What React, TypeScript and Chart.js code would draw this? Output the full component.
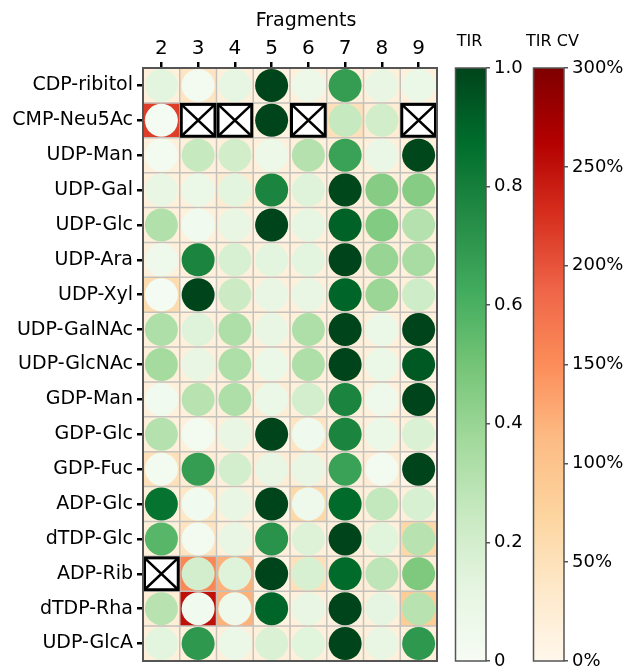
import React, { useEffect, useRef } from 'react';
import { Chart, registerables } from 'chart.js';
Chart.register(...registerables);

const FRAGMENTS = ['2', '3', '4', '5', '6', '7', '8', '9'];
const SUGARS = [
  'CDP-ribitol', 'CMP-Neu5Ac', 'UDP-Man', 'UDP-Gal', 'UDP-Glc', 'UDP-Ara', 'UDP-Xyl',
  'UDP-GalNAc', 'UDP-GlcNAc', 'GDP-Man', 'GDP-Glc', 'GDP-Fuc', 'ADP-Glc', 'dTDP-Glc',
  'ADP-Rib', 'dTDP-Rha', 'UDP-GlcA',
];
// TIR (0..1) per sugar row, per fragment column; null = not measured (X)
const TIR: (number | null)[][] = [
  [0.13, 0.03, 0.11, 1.0, 0.07, 0.68, 0.1, 0.08],
  [0.02, null, null, 1.0, null, 0.25, 0.21, null],
  [0.03, 0.25, 0.21, 0.07, 0.31, 0.66, 0.09, 0.99],
  [0.1, 0.08, 0.13, 0.78, 0.15, 0.99, 0.45, 0.45],
  [0.32, 0.04, 0.1, 1.0, 0.11, 0.91, 0.46, 0.31],
  [0.06, 0.78, 0.18, 0.13, 0.13, 1.0, 0.4, 0.35],
  [0.02, 1.0, 0.23, 0.1, 0.1, 0.9, 0.39, 0.22],
  [0.33, 0.15, 0.33, 0.1, 0.33, 1.0, 0.08, 1.0],
  [0.36, 0.1, 0.33, 0.08, 0.33, 1.0, 0.08, 0.94],
  [0.04, 0.3, 0.33, 0.08, 0.2, 0.78, 0.06, 1.0],
  [0.31, 0.03, 0.1, 1.0, 0.05, 0.78, 0.08, 0.17],
  [0.03, 0.68, 0.2, 0.1, 0.1, 0.66, 0.03, 1.0],
  [0.85, 0.04, 0.1, 1.0, 0.06, 0.88, 0.26, 0.18],
  [0.57, 0.03, 0.1, 0.72, 0.16, 1.0, 0.14, 0.3],
  [null, 0.2, 0.15, 1.0, 0.18, 0.88, 0.28, 0.47],
  [0.3, 0.04, 0.06, 0.9, 0.1, 1.0, 0.12, 0.3],
  [0.13, 0.7, 0.08, 0.17, 0.14, 1.0, 0.1, 0.7],
];
// TIR CV (%) per cell
const TIR_CV: (number | null)[][] = [
  [18, 45, 18, 12, 18, 18, 18, 18],
  [215, null, null, 12, null, 50, 25, null],
  [18, 18, 18, 18, 18, 18, 18, 18],
  [18, 18, 28, 18, 18, 18, 18, 18],
  [18, 18, 18, 6, 18, 18, 18, 18],
  [18, 18, 18, 18, 18, 18, 18, 18],
  [60, 6, 18, 18, 18, 18, 18, 18],
  [18, 18, 18, 18, 18, 18, 18, 18],
  [18, 18, 18, 18, 18, 18, 18, 8],
  [18, 18, 18, 24, 18, 18, 18, 18],
  [18, 18, 18, 6, 45, 18, 18, 18],
  [50, 24, 18, 25, 22, 18, 25, 6],
  [18, 40, 18, 6, 65, 18, 18, 18],
  [18, 45, 18, 18, 18, 18, 18, 65],
  [null, 155, 120, 10, 50, 22, 22, 22],
  [22, 250, 120, 10, 18, 15, 18, 85],
  [18, 18, 18, 18, 18, 18, 18, 18],
];
const TIR_TICKS = [0, 0.2, 0.4, 0.6, 0.8, 1.0];
const CV_TICKS = [0, 50, 100, 150, 200, 250, 300];
const CV_MAX = 300;
const X_TITLE = 'Fragments';

const GREENS = ['#f7fcf5', '#e5f5e0', '#c7e9c0', '#a1d99b', '#74c476', '#41ab5d', '#238b45', '#006d2c', '#00441b'];
const ORRD = ['#fff7ec', '#fee8c8', '#fdd49e', '#fdbb84', '#fc8d59', '#ef6548', '#d7301f', '#b30000', '#7f0000'];

const FONT = 'DejaVu Sans';

function hex(h: string) {
  return [parseInt(h.slice(1, 3), 16), parseInt(h.slice(3, 5), 16), parseInt(h.slice(5, 7), 16)];
}
function cmap(stops: string[], t: number) {
  const v = Math.max(0, Math.min(1, t)) * (stops.length - 1);
  const i = Math.min(stops.length - 2, Math.floor(v));
  const f = v - i;
  const a = hex(stops[i]);
  const b = hex(stops[i + 1]);
  const c = a.map((x, k) => Math.round(x + (b[k] - x) * f));
  return `rgb(${c[0]},${c[1]},${c[2]})`;
}

const cellPlugin = {
  id: 'cells',
  beforeDatasetsDraw(chart: any) {
    const { ctx, scales, chartArea } = chart;
    const x = scales.x;
    const y = scales.y;
    ctx.save();
    SUGARS.forEach((_, r) => {
      FRAGMENTS.forEach((__, c) => {
        const cv = TIR_CV[r][c];
        if (cv === null) return;
        const x0 = x.getPixelForValue(c - 0.5);
        const x1 = x.getPixelForValue(c + 0.5);
        const y0 = y.getPixelForValue(r - 0.5);
        const y1 = y.getPixelForValue(r + 0.5);
        ctx.fillStyle = cmap(ORRD, cv / CV_MAX);
        ctx.fillRect(x0, y0, x1 - x0, y1 - y0);
      });
    });
    ctx.strokeStyle = '#c4c0bc';
    ctx.lineWidth = 1.5;
    ctx.beginPath();
    for (let c = 0; c <= FRAGMENTS.length; c++) {
      const px = x.getPixelForValue(c - 0.5);
      ctx.moveTo(px, chartArea.top);
      ctx.lineTo(px, chartArea.bottom);
    }
    for (let r = 0; r <= SUGARS.length; r++) {
      const py = y.getPixelForValue(r - 0.5);
      ctx.moveTo(chartArea.left, py);
      ctx.lineTo(chartArea.right, py);
    }
    ctx.stroke();
    // axis title
    ctx.fillStyle = '#000000';
    ctx.font = `19px "${FONT}"`;
    ctx.textAlign = 'center';
    ctx.textBaseline = 'middle';
    ctx.fillText(X_TITLE, 306, 21);
    ctx.restore();
  },
  afterDatasetsDraw(chart: any) {
    const { ctx, scales, chartArea } = chart;
    const x = scales.x;
    const y = scales.y;
    ctx.save();
    SUGARS.forEach((_, r) => {
      FRAGMENTS.forEach((__, c) => {
        if (TIR[r][c] !== null) return;
        const x0 = x.getPixelForValue(c - 0.5);
        const x1 = x.getPixelForValue(c + 0.5);
        const y0 = y.getPixelForValue(r - 0.5);
        const y1 = y.getPixelForValue(r + 0.5);
        ctx.fillStyle = '#ffffff';
        ctx.fillRect(x0, y0, x1 - x0, y1 - y0);
        const ins = 1.5;
        ctx.strokeStyle = '#000000';
        ctx.lineWidth = 3;
        ctx.strokeRect(x0 + ins, y0 + ins, x1 - x0 - 2 * ins, y1 - y0 - 2 * ins);
        ctx.lineWidth = 2.5;
        ctx.beginPath();
        ctx.moveTo(x0 + ins, y0 + ins);
        ctx.lineTo(x1 - ins, y1 - ins);
        ctx.moveTo(x1 - ins, y0 + ins);
        ctx.lineTo(x0 + ins, y1 - ins);
        ctx.stroke();
      });
    });
    ctx.strokeStyle = '#555555';
    ctx.lineWidth = 2;
    ctx.strokeRect(chartArea.left, chartArea.top, chartArea.right - chartArea.left, chartArea.bottom - chartArea.top);
    ctx.restore();
  },
};

function makeBarPlugin(stops: string[], title: string, titleDx: number) {
  return {
    id: 'cbar',
    beforeDatasetsDraw(chart: any) {
      const { ctx, chartArea } = chart;
      ctx.save();
      const g = ctx.createLinearGradient(0, chartArea.bottom, 0, chartArea.top);
      stops.forEach((s, i) => g.addColorStop(i / (stops.length - 1), s));
      ctx.fillStyle = g;
      ctx.fillRect(chartArea.left, chartArea.top, chartArea.right - chartArea.left, chartArea.bottom - chartArea.top);
      ctx.strokeStyle = '#555555';
      ctx.lineWidth = 1.5;
      ctx.strokeRect(chartArea.left + 0.5, chartArea.top, chartArea.right - chartArea.left - 0.5, chartArea.bottom - chartArea.top);
      ctx.fillStyle = '#000000';
      ctx.font = `16px "${FONT}"`;
      ctx.textAlign = 'center';
      ctx.textBaseline = 'middle';
      ctx.fillText(title, (chartArea.left + chartArea.right) / 2 + titleDx, 42);
      ctx.restore();
    },
  };
}

function colorbarConfig(stops: string[], title: string, titleDx: number, ticks: number[], fmt: (v: number) => string, padLeft: number, totalW: number): any {
  return {
    type: 'scatter',
    data: { datasets: [{ data: [] }] },
    options: {
      animation: false,
      responsive: false,
      events: [],
      layout: { autoPadding: false, padding: { top: 68, bottom: 8, left: padLeft, right: 0 } },
      plugins: { legend: { display: false }, tooltip: { enabled: false }, title: { display: false } },
      scales: {
        x: { type: 'linear', display: false },
        y: {
          type: 'linear',
          position: 'right',
          min: ticks[0],
          max: ticks[ticks.length - 1],
          afterBuildTicks: (s: any) => { s.ticks = ticks.map((v) => ({ value: v })); },
          afterFit: (s: any) => { s.width = totalW - padLeft - 31; s.paddingTop = 0; s.paddingBottom = 0; },
          ticks: { callback: (v: any) => fmt(Number(v)), color: '#000', font: { family: FONT, size: 18 }, padding: 4 },
          grid: { drawOnChartArea: false, drawTicks: true, tickLength: 4, color: '#555', lineWidth: 1.5 },
          border: { display: false },
        },
      },
    },
    plugins: [makeBarPlugin(stops, title, titleDx)],
  };
}

export default function App() {
  const mainRef = useRef<HTMLCanvasElement>(null);
  const tirRef = useRef<HTMLCanvasElement>(null);
  const cvRef = useRef<HTMLCanvasElement>(null);

  useEffect(() => {
    const points: any[] = [];
    const colors: string[] = [];
    SUGARS.forEach((s, r) => {
      FRAGMENTS.forEach((f, c) => {
        const v = TIR[r][c];
        if (v === null) return;
        points.push({ x: f, y: s });
        colors.push(cmap(GREENS, v));
      });
    });
    const main = new Chart(mainRef.current!, {
      type: 'scatter',
      data: {
        datasets: [{
          data: points,
          pointRadius: 16.5,
          pointHoverRadius: 16.5,
          pointBackgroundColor: colors,
          pointBorderWidth: 0,
          borderWidth: 0,
          clip: false,
        }],
      },
      options: {
        animation: false,
        responsive: false,
        events: [],
        layout: { autoPadding: false, padding: { top: 0, bottom: 8, left: 0, right: 3 } },
        plugins: { legend: { display: false }, tooltip: { enabled: false } },
        scales: {
          x: {
            type: 'category',
            labels: FRAGMENTS,
            position: 'top',
            offset: true,
            afterFit: (s: any) => { s.height = 68; s.paddingLeft = 0; s.paddingRight = 0; },
            title: { display: false },
            ticks: { color: '#000', font: { family: FONT, size: 20 }, padding: 1, maxRotation: 0 },
            grid: { offset: false, drawOnChartArea: false, drawTicks: true, tickLength: 6, color: '#000', lineWidth: 2.5 },
            border: { display: false },
          },
          y: {
            type: 'category',
            labels: SUGARS,
            offset: true,
            afterFit: (s: any) => { s.width = 143; s.paddingTop = 0; s.paddingBottom = 0; },
            ticks: { color: '#000', font: { family: FONT, size: 19 }, padding: 4 },
            grid: { offset: false, drawOnChartArea: false, drawTicks: true, tickLength: 6, color: '#000', lineWidth: 2.5 },
            border: { display: false },
          },
        },
      } as any,
      plugins: [cellPlugin],
    });
    const tir = new Chart(tirRef.current!, colorbarConfig(GREENS, 'TIR', -1, TIR_TICKS, (v) => (v === 0 ? '0' : v.toFixed(1)), 15, 90));
    const cv = new Chart(cvRef.current!, colorbarConfig(ORRD, 'TIR CV', 4, CV_TICKS, (v) => `${v}%`, 18, 114));
    return () => { main.destroy(); tir.destroy(); cv.destroy(); };
  }, []);

  return (
    <div style={{ position: 'absolute', left: 0, top: 0, width: 629, height: 669, background: '#fff' }}>
      <canvas ref={mainRef} width={440} height={669} style={{ position: 'absolute', left: 0, top: 0 }} />
      <canvas ref={tirRef} width={90} height={669} style={{ position: 'absolute', left: 440, top: 0 }} />
      <canvas ref={cvRef} width={114} height={669} style={{ position: 'absolute', left: 515, top: 0 }} />
    </div>
  );
}
